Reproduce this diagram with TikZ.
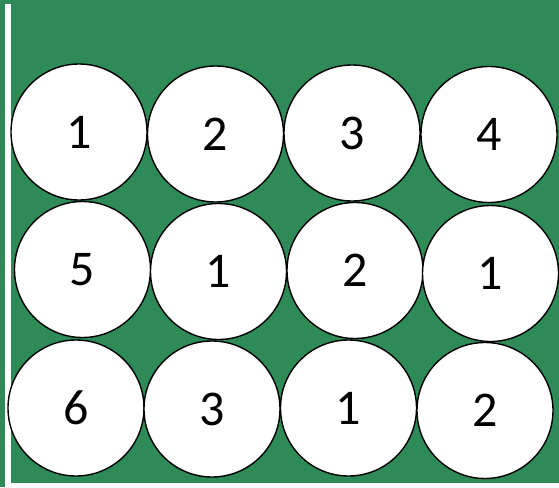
\documentclass[tikz,border=0pt]{standalone}
\usepackage{fontspec}
\setmainfont{Carlito}
\definecolor{felt}{HTML}{2E8B57}

\begin{document}
\begin{tikzpicture}[
		x=1pt, y=-1pt,
		disc/.style={
			circle, draw=black, line width=1.4pt, fill=white,
			minimum size=136pt, inner sep=0pt,
			font=\fontsize{50}{50}\selectfont
		}
		]
		
		% Board and its white edges
		\useasboundingbox (0,0) rectangle (559,487);
		\fill[felt] (0,0) rectangle (559,487);
		\fill[white] (5,4) rectangle (11,487);
		\fill[white] (11,483) rectangle (559,487);
		
		% --- First row ---
		\node[disc] (a1) at (79,132)    {1};
		\node[disc] (a2) at (215.5,134) {2};
		\node[disc] (a3) at (352,133)   {3};
		\node[disc] (a4) at (489,134.5) {4};
		
		% --- Second row ---
		\node[disc] (b1) at (82.5,269.5) {5};
		\node[disc] (b2) at (218.5,271.5) {1};
		\node[disc] (b3) at (355,270.5)  {2};
		\node[disc] (b4) at (490.5,273.5) {1};
		
		% --- Third row ---
		\node[disc] (c1) at (76,408)    {6};
		\node[disc] (c2) at (212,409)   {3};
		\node[disc] (c3) at (348.5,408) {1};
		\node[disc] (c4) at (485,410.5) {2};
		
	\end{tikzpicture}
\end{document}
